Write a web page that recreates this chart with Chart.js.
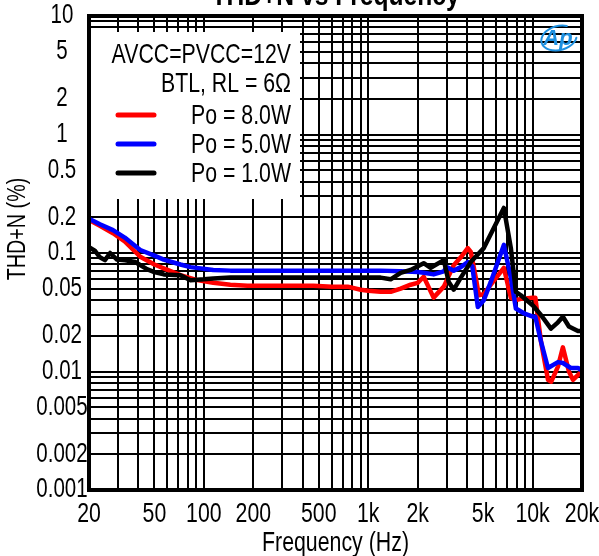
<!DOCTYPE html>
<html>
<head>
<meta charset="utf-8">
<script src="https://cdn.jsdelivr.net/npm/chart.js@4/dist/chart.umd.min.js"></script>
<style>
  html, body { margin: 0; padding: 0; background: #ffffff; }
  #c { display: block; }
</style>
</head>
<body>
<canvas id="c" width="599" height="556"></canvas>
<script>
// ---------------- data ----------------
const chartTitle = 'THD+N vs Frequency';
const xAxisTitle = 'Frequency (Hz)';
const yAxisTitle = 'THD+N (%)';
const legendHeader = ['AVCC=PVCC=12V', 'BTL, RL = 6Ω'];
const seriesLabels = ['Po = 8.0W', 'Po = 5.0W', 'Po = 1.0W'];
const seriesColors = ['#ff0000', '#0000ff', '#000000'];

const freq8W = [20, 23.3, 28, 33, 41, 50, 60, 72, 91, 114, 145, 184, 300, 464, 600, 750, 900, 1000, 1190, 1370, 1576, 1812, 2000, 2176, 2500, 2885, 3316, 3660, 4036, 4210, 4516, 4710, 5052, 5572, 6690, 7380, 7918, 8490, 10000, 10400, 11250, 12420, 13000, 14280, 15300, 16650, 17620, 20000];
const thd8W  = [0.19, 0.17, 0.147, 0.125, 0.093, 0.08, 0.072, 0.065, 0.059, 0.056, 0.054, 0.053, 0.053, 0.053, 0.052, 0.052, 0.049, 0.048, 0.047, 0.047, 0.050, 0.054, 0.056, 0.063, 0.042, 0.052, 0.079, 0.092, 0.110, 0.102, 0.062, 0.044, 0.045, 0.054, 0.075, 0.042, 0.040, 0.041, 0.042, 0.042, 0.018, 0.0085, 0.0082, 0.011, 0.016, 0.010, 0.0085, 0.0101];

const freq5W = [20, 23.3, 28, 33, 41, 50, 57, 72, 83, 114, 145, 184, 300, 600, 1000, 1190, 1576, 2000, 2176, 2500, 2885, 3000, 3316, 3660, 4036, 4300, 4646, 5052, 5572, 6690, 7380, 7918, 8858, 10050, 10400, 11250, 12420, 14280, 15300, 17100, 18900, 20000];
const thd5W  = [0.195, 0.175, 0.156, 0.135, 0.106, 0.095, 0.088, 0.080, 0.076, 0.072, 0.071, 0.071, 0.071, 0.071, 0.071, 0.071, 0.070, 0.069, 0.068, 0.066, 0.070, 0.076, 0.071, 0.076, 0.084, 0.077, 0.035, 0.040, 0.057, 0.117, 0.062, 0.034, 0.031, 0.029, 0.029, 0.018, 0.0107, 0.012, 0.0118, 0.0107, 0.0107, 0.0102];

const freq1W = [20, 21.8, 23.3, 25, 26.9, 29.6, 33.2, 38.2, 45, 50, 57, 72, 83, 100, 114, 145, 300, 600, 1000, 1190, 1370, 1576, 1812, 2176, 2400, 2885, 3090, 3316, 3660, 4210, 5052, 6690, 7380, 7918, 8490, 10050, 11250, 12940, 14280, 15300, 16650, 18900, 20000];
const thd1W  = [0.112, 0.104, 0.092, 0.087, 0.100, 0.088, 0.087, 0.084, 0.073, 0.069, 0.066, 0.065, 0.059, 0.060, 0.061, 0.062, 0.062, 0.062, 0.062, 0.062, 0.060, 0.068, 0.072, 0.082, 0.075, 0.087, 0.057, 0.049, 0.062, 0.084, 0.11, 0.24, 0.11, 0.047, 0.044, 0.036, 0.030, 0.023, 0.026, 0.029, 0.024, 0.022, 0.022];

const xTickValues = [20, 50, 100, 200, 500, 1000, 2000, 5000, 10000, 20000];
const xTickLabels = ['20', '50', '100', '200', '500', '1k', '2k', '5k', '10k', '20k'];
const yTickValues = [0.001, 0.002, 0.005, 0.01, 0.02, 0.05, 0.1, 0.2, 0.5, 1, 2, 5, 10];
const yTickLabels = ['0.001', '0.002', '0.005', '0.01', '0.02', '0.05', '0.1', '0.2', '0.5', '1', '2', '5', '10'];

// ---------------- helpers ----------------
const FONT = '"Liberation Sans", Arial, sans-serif';
const NARROW = 0.76;

function decadeGrid(min, max) {
  const out = [];
  for (let e = Math.floor(Math.log10(min)); e <= Math.ceil(Math.log10(max)); e++) {
    for (let m = 1; m <= 9; m++) {
      const v = parseFloat((m * Math.pow(10, e)).toPrecision(6));
      if (v >= min * 0.9999 && v <= max * 1.0001) out.push(v);
    }
  }
  return out;
}
function pts(xs, ys) { return xs.map((x, i) => ({ x: x, y: ys[i] })); }

function narrowText(ctx, text, x, y, size, o) {
  o = o || {};
  ctx.save();
  ctx.font = (o.bold ? 'bold ' : '') + size + 'px ' + FONT;
  ctx.textAlign = o.align || 'center';
  ctx.textBaseline = o.baseline || 'middle';
  ctx.fillStyle = o.color || '#000000';
  ctx.translate(x, y);
  if (o.rotate) ctx.rotate(o.rotate);
  ctx.scale(o.sx || NARROW, 1);
  ctx.fillText(text, 0, 0);
  ctx.restore();
}

const xGrid = decadeGrid(20, 20000);
const yGrid = decadeGrid(0.001, 10);

// ---------------- plugins ----------------
const decor = {
  id: 'decor',
  beforeDatasetsDraw(chart) {
    const { ctx, chartArea } = chart;
    ctx.save();
    ctx.fillStyle = '#ffffff';
    ctx.fillRect(chartArea.left, 32, 300 - chartArea.left, 199 - 32);
    ctx.restore();
  },
  afterDraw(chart) {
    const { ctx, chartArea, scales } = chart;
    ctx.save();
    // frame
    ctx.strokeStyle = '#000000';
    ctx.lineWidth = 4;
    ctx.strokeRect(chartArea.left, chartArea.top, chartArea.right - chartArea.left, chartArea.bottom - chartArea.top);

    // tick labels via the library's scales
    xTickValues.forEach((v, i) => {
      narrowText(ctx, xTickLabels[i], scales.x.getPixelForValue(v), 514, 28);
    });
    yTickValues.forEach((v, i) => {
      narrowText(ctx, yTickLabels[i], 62, scales.y.getPixelForValue(v), 27);
    });

    // axis titles
    narrowText(ctx, xAxisTitle, (chartArea.left + chartArea.right) / 2, 544, 27, { sx: 0.79 });
    narrowText(ctx, yAxisTitle, 18, 229, 26, { rotate: -Math.PI / 2 });

    // legend
    const textRight = 291;
    narrowText(ctx, legendHeader[0], textRight, 55, 28, { align: 'right' });
    narrowText(ctx, legendHeader[1], textRight, 84, 28, { align: 'right' });
    const rowsY = [116, 145, 174];
    chart.data.datasets.forEach((ds, i) => {
      narrowText(ctx, ds.label, textRight, rowsY[i], 28, { align: 'right' });
      ctx.strokeStyle = ds.borderColor;
      ctx.lineWidth = 5;
      ctx.lineCap = 'round';
      ctx.beginPath();
      ctx.moveTo(118, rowsY[i] - 1);
      ctx.lineTo(154, rowsY[i] - 1);
      ctx.stroke();
    });

    // chart title (clipped at top)
    narrowText(ctx, chartTitle, (chartArea.left + chartArea.right) / 2, 4.5, 30, { bold: true, baseline: 'alphabetic', sx: 0.82 });

    // AP logo
    ctx.strokeStyle = '#1e90e0';
    ctx.fillStyle = '#1e90e0';
    ctx.lineWidth = 2;
    ctx.beginPath();
    ctx.ellipse(559, 38, 18, 12, -0.25, 0.35, Math.PI * 1.7);
    ctx.stroke();
    ctx.font = 'italic bold 22px "Liberation Sans", Arial, sans-serif';
    ctx.textAlign = 'center';
    ctx.textBaseline = 'middle';
    ctx.fillText('Ap', 558, 39);
    ctx.restore();
  }
};

// ---------------- chart ----------------
new Chart(document.getElementById('c').getContext('2d'), {
  type: 'line',
  data: {
    datasets: [
      { label: seriesLabels[0], data: pts(freq8W, thd8W), borderColor: seriesColors[0], order: 2 },
      { label: seriesLabels[1], data: pts(freq5W, thd5W), borderColor: seriesColors[1], order: 1 },
      { label: seriesLabels[2], data: pts(freq1W, thd1W), borderColor: seriesColors[2], order: 0 }
    ]
  },
  options: {
    responsive: false,
    animation: false,
    devicePixelRatio: 1,
    layout: { padding: { top: 16, right: 17, left: 0, bottom: 0 } },
    elements: {
      line: { borderWidth: 4.5, tension: 0, fill: false, borderJoinStyle: 'round', borderCapStyle: 'round' },
      point: { radius: 0, hoverRadius: 0 }
    },
    plugins: { legend: { display: false }, title: { display: false }, tooltip: { enabled: false } },
    scales: {
      x: {
        type: 'logarithmic',
        min: 20, max: 20000,
        afterFit(s) { s.height = 66; s.paddingLeft = 0; s.paddingRight = 0; },
        afterBuildTicks(s) { s.ticks = xGrid.map(v => ({ value: v })); },
        grid: { color: '#000000', lineWidth: 2, drawTicks: false },
        border: { display: false },
        ticks: { display: false, autoSkip: false, maxRotation: 0, minRotation: 0 }
      },
      y: {
        type: 'logarithmic',
        min: 0.001, max: 10,
        afterFit(s) { s.width = 89; s.paddingTop = 0; s.paddingBottom = 0; },
        afterBuildTicks(s) { s.ticks = yGrid.map(v => ({ value: v })); },
        grid: { color: '#000000', lineWidth: 2, drawTicks: false },
        border: { display: false },
        ticks: { display: false, autoSkip: false }
      }
    }
  },
  plugins: [decor]
});
</script>
</body>
</html>
